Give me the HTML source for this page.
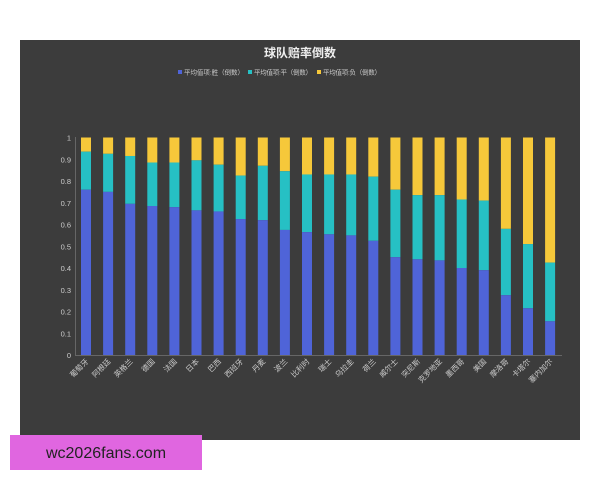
<!DOCTYPE html><html><head><meta charset="utf-8"><style>body{margin:0;background:#fff}svg{display:block}</style></head><body>
<svg width="600" height="480" xmlns="http://www.w3.org/2000/svg" font-family="Liberation Sans, Noto Sans CJK SC, sans-serif">
<rect x="0" y="0" width="600" height="480" fill="#fff"/>
<rect x="20" y="40" width="560" height="400" fill="#3c3c3c"/>
<text x="300" y="57" fill="#eee" font-size="12" font-weight="bold" text-anchor="middle">球队赔率倒数</text>
<g font-size="6.5" fill="#ccc">
<rect x="178" y="70" width="4" height="4" fill="#4f64d8"/><text x="184" y="74.5" textLength="60">平均值项:胜（倒数）</text>
<rect x="248" y="70" width="4" height="4" fill="#26c0c4"/><text x="254" y="74.5" textLength="58">平均值项:平（倒数）</text>
<rect x="317" y="70" width="4" height="4" fill="#f6c83a"/><text x="323" y="74.5" textLength="58">平均值项:负（倒数）</text>
</g>
<g id="ax" font-size="7.5" fill="#ccc" text-anchor="end"></g>
<g id="bars"></g>
<line x1="75.5" y1="137" x2="75.5" y2="355" stroke="#666"/>
<line x1="75" y1="355.5" x2="562" y2="355.5" stroke="#666"/>
<rect x="10" y="435" width="192" height="35" fill="#e066e0"/>
<text x="106" y="458" font-size="16" fill="#222" text-anchor="middle">wc2026fans.com</text>
<script>
var d=[[.76,.935],[.75,.925],[.695,.915],[.685,.885],[.68,.885],[.665,.895],[.66,.875],[.625,.825],[.62,.87],[.575,.845],[.565,.83],[.555,.83],[.55,.83],[.525,.82],[.45,.76],[.44,.735],[.435,.735],[.40,.715],[.39,.71],[.275,.58],[.215,.51],[.155,.425]];
var n=["葡萄牙","阿根廷","英格兰","德国","法国","日本","巴西","西班牙","丹麦","波兰","比利时","瑞士","乌拉圭","荷兰","威尔士","突尼斯","克罗地亚","墨西哥","美国","摩洛哥","卡塔尔","塞内加尔"];
var ns="http://www.w3.org/2000/svg",g=document.getElementById("bars"),a=document.getElementById("ax");
function Y(v){return 355-v*217.5}
function r(x,y1,y2,c){var e=document.createElementNS(ns,"rect");e.setAttribute("x",x);e.setAttribute("y",y1);e.setAttribute("width",10);e.setAttribute("height",y2-y1);e.setAttribute("fill",c);g.appendChild(e)}
for(var i=0;i<=10;i++){var t=document.createElementNS(ns,"text");t.setAttribute("x",71);t.setAttribute("y",Y(i/10)+3);t.textContent=i==0?"0":i==10?"1":(i/10).toFixed(1);a.appendChild(t)}
d.forEach(function(v,i){var x=81+i*22.1;r(x,Y(1),Y(v[1]),"#f6c83a");r(x,Y(v[1]),Y(v[0]),"#26c0c4");r(x,Y(v[0]),355,"#4f64d8");
var t=document.createElementNS(ns,"text");t.setAttribute("font-size","7.5");t.setAttribute("fill","#ccc");t.setAttribute("text-anchor","end");t.setAttribute("transform","translate("+(x+8)+",362) rotate(-45)");t.textContent=n[i];g.appendChild(t)});
</script>
</svg></body></html>
